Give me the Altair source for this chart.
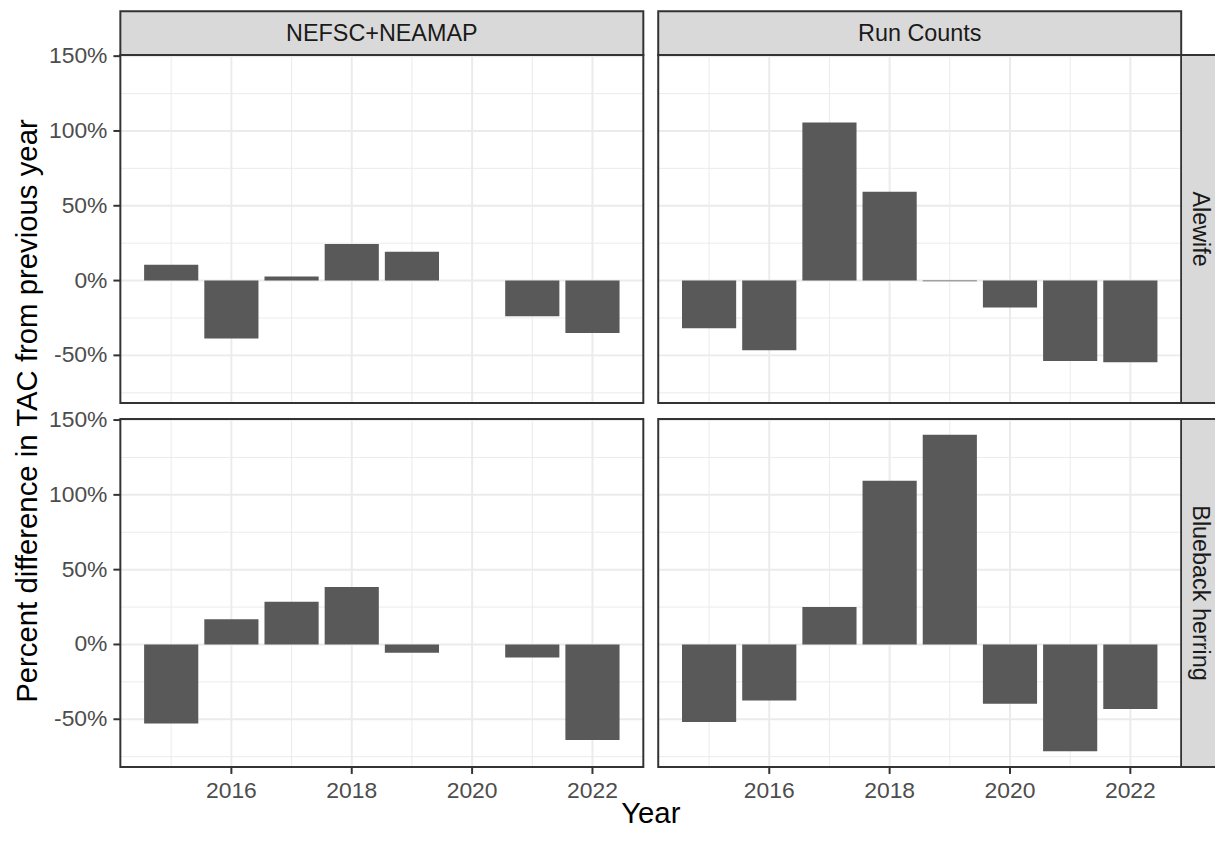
import altair as alt
import pandas as pd

# ---- data ----
years = [2015, 2016, 2017, 2018, 2019, 2020, 2021, 2022]
alewife_nefsc = [10.5, -38.8, 2.8, 24.5, 19.3, None, -23.9, -35.0]
alewife_run = [-31.8, -46.5, 105.7, 59.4, -0.4, -18.0, -53.7, -54.6]
blueback_nefsc = [-52.8, 16.9, 28.5, 38.4, -5.5, None, -8.8, -63.8]
blueback_run = [-51.8, -37.5, 25.0, 109.4, 140.1, -39.7, -71.3, -43.2]

sources = ["NEFSC+NEAMAP", "Run Counts"]
species = ["Alewife", "Blueback herring"]
x_title = "Year"
y_title = "Percent difference in TAC from previous year"

y_major = [-50, 0, 50, 100, 150]
y_tick_labels = ["-50%", "0%", "50%", "100%", "150%"]
y_minor = [-75, -25, 25, 75, 125]
x_major = [2016, 2018, 2020, 2022]
x_tick_labels = ["2016", "2018", "2020", "2022"]
x_minor = [2015, 2017, 2019, 2021]
y_domain = [-81.9, 150.7]
x_domain = [2014.155, 2022.845]

# ---- style ----
W, H = 526, 350
COL_GAP, ROW_GAP = 15, 16
STRIP = 44
RSTRIP = 34
FONT = "Liberation Sans"
GRID = "#EBEBEB"
DARK = "#333333"
TICKLAB = "#4D4D4D"
BAR = "#595959"
STRIP_FILL = "#D9D9D9"
TICK_FS = 23
STRIP_FS = 23.5
TITLE_FS = 29.5

xscale = alt.Scale(domain=x_domain, nice=False, zero=False)
yscale = alt.Scale(domain=y_domain, nice=False, zero=False)


def panel(values, row, col):
    df = pd.DataFrame({"year": years, "pct": values}).dropna()
    bottom = row == 1
    left = col == 0

    ygrid_major = pd.DataFrame({"v": y_major, "label": y_tick_labels})
    xgrid_major = pd.DataFrame({"v": x_major, "label": x_tick_labels})

    hminor = alt.Chart(pd.DataFrame({"v": y_minor})).mark_rule(
        color=GRID, strokeWidth=1).encode(
        y=alt.Y("v:Q", scale=yscale, axis=None))
    vminor = alt.Chart(pd.DataFrame({"v": x_minor})).mark_rule(
        color=GRID, strokeWidth=1).encode(
        x=alt.X("v:Q", scale=xscale, axis=None))
    hmajor = alt.Chart(ygrid_major).mark_rule(
        color=GRID, strokeWidth=2).encode(
        y=alt.Y("v:Q", scale=yscale, axis=None))
    vmajor = alt.Chart(xgrid_major).mark_rule(
        color=GRID, strokeWidth=2).encode(
        x=alt.X("v:Q", scale=xscale, axis=None))

    bars = alt.Chart(df).transform_calculate(
        x0="datum.year - 0.45", x1="datum.year + 0.45"
    ).mark_bar(color=BAR).encode(
        x=alt.X("x0:Q", scale=xscale, axis=None),
        x2="x1:Q",
        y=alt.Y("pct:Q", scale=yscale, axis=None),
        y2=alt.datum(0),
    )

    frame_data = alt.InlineData(values=[{"f": 1}])
    frame = alt.Chart(frame_data).mark_rect(
        fillOpacity=0, stroke=DARK, strokeWidth=2).encode(
        x=alt.value(0), x2=alt.value(W), y=alt.value(0), y2=alt.value(H))

    layers = [hminor, vminor, hmajor, vmajor, bars, frame]

    # y axis (left column): ticks + labels through the y scale
    if left:
        yticks = alt.Chart(ygrid_major).mark_rule(
            color=DARK, strokeWidth=2).encode(
            y=alt.Y("v:Q", scale=yscale, axis=None),
            x=alt.value(-7), x2=alt.value(0))
        ylabels = alt.Chart(ygrid_major).mark_text(
            fontSize=TICK_FS, font=FONT, color=TICKLAB, align="right",
            baseline="middle").encode(
            y=alt.Y("v:Q", scale=yscale, axis=None),
            x=alt.value(-13), text="label:N")
        layers += [yticks, ylabels]

    # x axis (bottom row)
    if bottom:
        xticks = alt.Chart(xgrid_major).mark_rule(
            color=DARK, strokeWidth=2).encode(
            x=alt.X("v:Q", scale=xscale, axis=None),
            y=alt.value(H), y2=alt.value(H + 7))
        xlabels = alt.Chart(xgrid_major).mark_text(
            fontSize=TICK_FS, font=FONT, color=TICKLAB, align="center",
            baseline="middle").encode(
            x=alt.X("v:Q", scale=xscale, axis=None),
            y=alt.value(H + 24), text="label:N")
        layers += [xticks, xlabels]

    if row == 0:
        sdata = alt.InlineData(values=[{"label": sources[col]}])
        srect = alt.Chart(sdata).mark_rect(
            fill=STRIP_FILL, stroke=DARK, strokeWidth=2).encode(
            x=alt.value(0), x2=alt.value(W),
            y=alt.value(-STRIP), y2=alt.value(0))
        stext = alt.Chart(sdata).mark_text(
            fontSize=STRIP_FS, font=FONT, color="#1A1A1A", baseline="middle",
            align="center").encode(
            x=alt.value(W / 2), y=alt.value(-STRIP / 2 + 1), text="label:N")
        layers += [srect, stext]

    if col == 1:
        rdata = alt.InlineData(values=[{"label": species[row]}])
        rrect = alt.Chart(rdata).mark_rect(fill=STRIP_FILL).encode(
            x=alt.value(W + 1), x2=alt.value(W + RSTRIP),
            y=alt.value(0), y2=alt.value(H))
        rtop = alt.Chart(rdata).mark_rule(color=DARK, strokeWidth=2).encode(
            x=alt.value(W), x2=alt.value(W + RSTRIP), y=alt.value(0))
        rbot = alt.Chart(rdata).mark_rule(color=DARK, strokeWidth=2).encode(
            x=alt.value(W), x2=alt.value(W + RSTRIP), y=alt.value(H))
        rtext = alt.Chart(rdata).mark_text(
            fontSize=STRIP_FS, font=FONT, color="#1A1A1A", angle=90,
            baseline="middle", align="center").encode(
            x=alt.value(W + 19), y=alt.value(H / 2), text="label:N")
        layers += [rrect, rtop, rbot, rtext]

    if row == 0 and left:
        ydata = alt.InlineData(values=[{"label": y_title}])
        ytext = alt.Chart(ydata).mark_text(
            fontSize=TITLE_FS, font=FONT, color="#000000", angle=270,
            baseline="middle", align="center").encode(
            x=alt.value(-93), y=alt.value(H + ROW_GAP / 2), text="label:N")
        layers += [ytext]

    if bottom and left:
        xdata = alt.InlineData(values=[{"label": x_title}])
        xtext = alt.Chart(xdata).mark_text(
            fontSize=TITLE_FS, font=FONT, color="#000000",
            baseline="middle", align="center").encode(
            x=alt.value(W + COL_GAP / 2), y=alt.value(H + 47),
            text="label:N")
        layers += [xtext]

    return alt.layer(*layers).properties(width=W, height=H)


p11 = panel(alewife_nefsc, 0, 0)
p12 = panel(alewife_run, 0, 1)
p21 = panel(blueback_nefsc, 1, 0)
p22 = panel(blueback_run, 1, 1)

chart = alt.concat(
    p11, p12, p21, p22, columns=2,
    spacing={"row": ROW_GAP, "column": COL_GAP}, bounds="flush"
).properties(
    padding={"left": 4, "top": 0, "right": 0, "bottom": 0},
    background="white",
).configure(font=FONT).configure_view(strokeWidth=0)

chart.save("out.html", embed_options={"renderer": "svg", "actions": False})
